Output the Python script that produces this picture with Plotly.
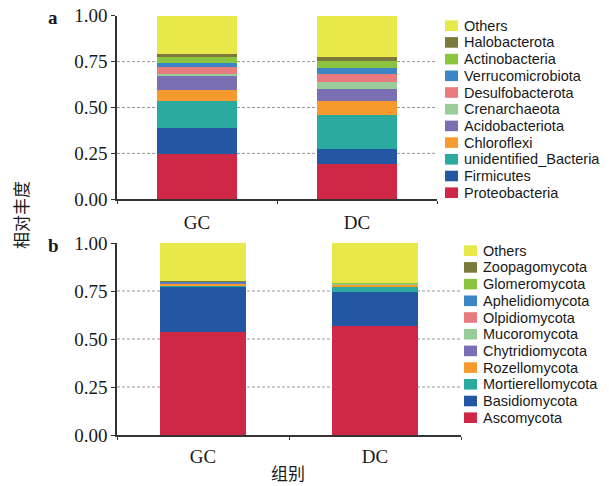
import plotly.graph_objects as go

# ---- data -------------------------------------------------------------
groups = ["GC", "DC"]

# bacterial phyla, listed bottom-of-stack first
bact_names = ["Proteobacteria", "Firmicutes", "unidentified_Bacteria", "Chloroflexi",
              "Acidobacteriota", "Crenarchaeota", "Desulfobacterota", "Verrucomicrobiota",
              "Actinobacteria", "Halobacterota", "Others"]
bact_gc = [0.245, 0.145, 0.145, 0.060, 0.083, 0.005, 0.035, 0.023, 0.035, 0.015, 0.209]
bact_dc = [0.192, 0.080, 0.185, 0.080, 0.065, 0.035, 0.044, 0.034, 0.037, 0.021, 0.227]

# fungal phyla, listed bottom-of-stack first
fung_names = ["Ascomycota", "Basidiomycota", "Mortierellomycota", "Rozellomycota",
              "Chytridiomycota", "Mucoromycota", "Olpidiomycota", "Aphelidiomycota",
              "Glomeromycota", "Zoopagomycota", "Others"]
fung_gc = [0.538, 0.231, 0.012, 0.008, 0.003, 0.002, 0.002, 0.002, 0.002, 0.001, 0.199]
fung_dc = [0.570, 0.174, 0.027, 0.013, 0.002, 0.002, 0.002, 0.001, 0.002, 0.001, 0.206]

palette = ["#CF2746", "#2356A3", "#2BABA0", "#F79A2E", "#7B6FB4", "#99CC99",
           "#E87B7E", "#3D85C6", "#8BC540", "#7B7A3A", "#E8E84A"]

y_ticks = [0, 0.25, 0.5, 0.75, 1.0]
grid_levels = [0.25, 0.5, 0.75]

# ---- figure geometry (pixels) -------------------------------------------
W, H = 609, 486


def px_x(x):
    return x / W


def px_y(y):
    return 1 - y / H


fig = go.Figure()

panels = [
    dict(xa="x", ya="y", names=bact_names, gc=bact_gc, dc=bact_dc),
    dict(xa="x2", ya="y2", names=fung_names, gc=fung_gc, dc=fung_dc),
]

for p in panels:
    for i, name in enumerate(p["names"]):
        fig.add_trace(go.Bar(
            x=groups, y=[p["gc"][i], p["dc"][i]], name=name,
            marker=dict(color=palette[i], line=dict(width=0)),
            width=0.5, xaxis=p["xa"], yaxis=p["ya"], showlegend=False,
        ))

tick_font = dict(family="Liberation Serif, Times New Roman, serif", size=19, color="#1a1a1a")
axis_common = dict(showline=True, linecolor="#333333", linewidth=1.6, showgrid=False,
                   zeroline=False, ticks="outside", tickcolor="#333333", tickwidth=1.4,
                   tickfont=tick_font, automargin=False)

fig.update_layout(
    width=W, height=H,
    margin=dict(l=0, r=0, t=0, b=0, pad=0, autoexpand=False),
    paper_bgcolor="white", plot_bgcolor="white",
    barmode="stack", showlegend=False,
    xaxis=dict(domain=[px_x(117), px_x(437)], anchor="y", tickson="boundaries",
               ticklen=3, ticklabelstandoff=5, **axis_common),
    yaxis=dict(domain=[px_y(199.3), px_y(15.7)], anchor="x", range=[0, 1],
               tickvals=y_ticks, tickformat=".2f", ticklen=4, **axis_common),
    xaxis2=dict(domain=[px_x(117), px_x(461)], anchor="y2", tickson="boundaries",
                ticklen=3, ticklabelstandoff=3, **axis_common),
    yaxis2=dict(domain=[px_y(435), px_y(243)], anchor="x2", range=[0, 1],
                tickvals=y_ticks, tickformat=".2f", ticklen=4, **axis_common),
)

# dashed reference lines behind the bars
for xr, yr in (("x domain", "y"), ("x2 domain", "y2")):
    for lv in grid_levels:
        fig.add_shape(type="line", xref=xr, yref=yr, x0=0, x1=1, y0=lv, y1=lv,
                      line=dict(color="#9a9a9a", width=1, dash="3px,2px"), layer="below")

# panel letters and axis titles
label_font = dict(family="Liberation Serif, Times New Roman, serif", size=19, color="#1a1a1a")
for letter, ypx in (("a", 18), ("b", 245)):
    fig.add_annotation(text=f"<b>{letter}</b>", xref="paper", yref="paper",
                       x=px_x(53), y=px_y(ypx), showarrow=False, font=label_font,
                       xanchor="center", yanchor="middle")

cjk_font = dict(family="Noto Sans CJK SC", size=17, color="#1a1a1a")
fig.add_annotation(text="相对丰度", xref="paper", yref="paper", x=px_x(20), y=px_y(215),
                   textangle=-90, showarrow=False, font=cjk_font,
                   xanchor="center", yanchor="middle")
fig.add_annotation(text="组别", xref="paper", yref="paper", x=px_x(288), y=0,
                   showarrow=False, font=dict(family="Noto Sans CJK SC", size=17, color="#1a1a1a"),
                   xanchor="center", yanchor="bottom", borderpad=0)

# colour keys drawn beside each panel (top entry = last stacked series)
key_font = dict(family="Liberation Sans, Arial, sans-serif", size=14.5, color="#1a1a1a")
step = 16.7
for names, sw_left, top_center in ((bact_names, 445, 25.7), (fung_names, 464, 250.7)):
    for k, name in enumerate(reversed(names)):
        color = palette[len(names) - 1 - k]
        cy = top_center + k * step
        fig.add_shape(type="rect", xref="paper", yref="paper",
                      x0=px_x(sw_left), x1=px_x(sw_left + 13),
                      y0=px_y(cy + 5.3), y1=px_y(cy - 5.3),
                      fillcolor=color, line=dict(width=0))
        fig.add_annotation(text=name, xref="paper", yref="paper",
                           x=px_x(sw_left + 17), y=px_y(cy), showarrow=False,
                           font=key_font, xanchor="left", yanchor="middle")

fig.write_html("out.html")
